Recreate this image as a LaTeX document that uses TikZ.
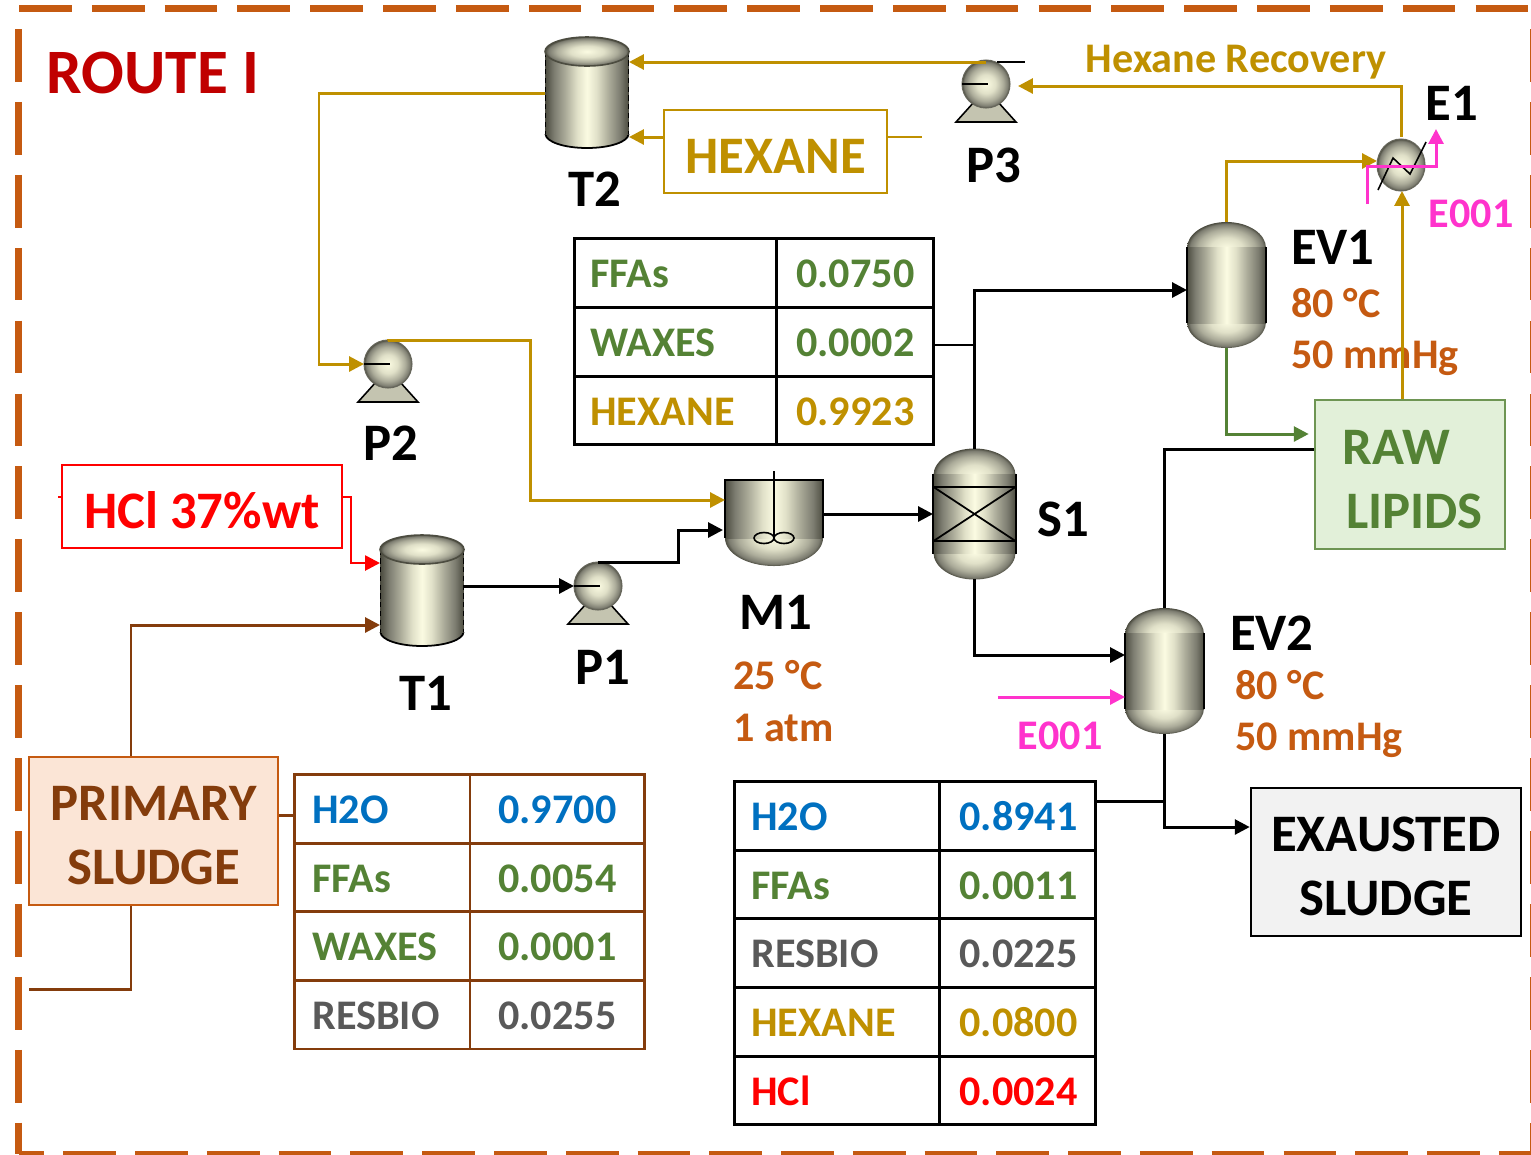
\documentclass[tikz,border=0pt]{standalone}
\usepackage{fontspec}
\setmainfont{Carlito}
\usetikzlibrary{arrows.meta, positioning, calc, shapes.geometric}
\definecolor{routered}{HTML}{C00000}
\definecolor{framecolor}{HTML}{C55A11}
\definecolor{hexcolor}{HTML}{BF9000}
\definecolor{sludgecolor}{HTML}{843C0C}
\definecolor{sludgefill}{HTML}{FBE5D6}
\definecolor{watercolor}{HTML}{0070C0}
\definecolor{lipidcolor}{HTML}{548235}
\definecolor{lipidfill}{HTML}{E2F0D9}
\definecolor{biocolor}{HTML}{595959}
\definecolor{utilcolor}{HTML}{FF33CC}
\definecolor{metaldark}{HTML}{4C4C40}
\definecolor{metalshade}{HTML}{7C7C70}
\definecolor{metalmid}{HTML}{ACAC9A}
\definecolor{metalpale}{HTML}{E0E0C8}
\definecolor{metallight}{HTML}{FBFBE2}
\pgfdeclarehorizontalshading{metal}{100bp}{color(0bp)=(metaldark); color(25bp)=(metaldark);
  color(30bp)=(metalshade); color(37bp)=(metalmid); color(44bp)=(metalpale); color(50bp)=(metallight);
  color(56bp)=(metalpale); color(63bp)=(metalmid); color(70bp)=(metalshade); color(75bp)=(metaldark); color(100bp)=(metaldark)}
\pgfdeclareradialshading{metalball}{\pgfpoint{0bp}{0bp}}{color(0bp)=(metallight);
  color(10bp)=(metalpale); color(18bp)=(metalmid); color(23bp)=(metalshade);
  color(25bp)=(metaldark); color(50bp)=(metaldark)}
\newcommand{\boxdrop}{\rule{0pt}{25pt}}
\tikzset{
  stream/.style   = {-{Triangle[length=8.5pt,width=8.5pt]}, line width=1.7pt},
  tie/.style      = {line width=1.7pt},
  thintie/.style  = {line width=0.8pt},
  unit/.style     = {inner sep=0pt, outer sep=0pt},
  tankunit/.style = {unit, minimum width=1.68cm, minimum height=2.22cm},
  pumpunit/.style = {unit, circle, minimum size=0.96cm},
  vesselunit/.style = {unit, minimum width=1.58cm, minimum height=2.52cm},
  sepunit/.style  = {unit, minimum width=1.66cm, minimum height=2.6cm},
  mixunit/.style  = {unit, minimum width=1.96cm, minimum height=1.72cm},
  hxunit/.style   = {unit, ellipse, minimum width=0.96cm, minimum height=1.04cm},
  tag/.style      = {font=\fontsize{30}{36}\selectfont\bfseries, inner sep=0pt, anchor=base, xshift=0.5pt, yshift=-0.5pt},
  cond/.style     = {font=\fontsize{24}{29}\selectfont\bfseries, color=framecolor, inner sep=0pt, anchor=base west},
  util/.style     = {font=\fontsize{24}{29}\selectfont\bfseries, color=utilcolor, inner sep=0pt, anchor=base},
  feedbox/.style  = {draw, line width=1.5pt, font=\fontsize{30}{36.3}\selectfont\bfseries, align=center, inner sep=0pt},
  tabframe/.style = {draw, line width=1.7pt, inner sep=0pt},
  gridline/.style = {line width=1.7pt},
  cell/.style     = {font=\fontsize{24}{29}\selectfont\bfseries, inner sep=0pt, anchor=base west},
  tank/.pic = {
    \shade[shading=metal] (0,41.5) ellipse [x radius=41.5, y radius=14];
    \draw[black, line width=1pt] (-41.5,41.5) arc [start angle=180, end angle=360, x radius=41.5, y radius=-14];
    \shade[shading=metal] (-41.5,-41) rectangle (41.5,41.5);
    \draw[black, densely dashed, line width=0.9pt] (-41.5,-41) -- (-41.5,41) (41.5,-41) -- (41.5,41);
    \shade[shading=metalball, draw=metaldark, line width=0.9pt] (0,-41) ellipse [x radius=42, y radius=14.5];
  },
  pump/.pic = {
    \fill[metalmid!70!metallight, draw=black, line width=0.9pt] (-30,38) -- (-12,18) -- (12,18) -- (30,38) -- cycle;
    \shade[shading=metalball, draw=metalmid!60!black, line width=0.6pt] (0,0) circle [radius=24];
    \draw[black, line width=0.9pt] (-24,0) -- (2,0);
  },
  vessel/.pic = {
    \shade[shading=metalball] (0,-37) ellipse [x radius=39.5, y radius=26];
    \shade[shading=metalball] (0,37) ellipse [x radius=39.5, y radius=26];
    \shade[shading=metal] (-39.5,-38) rectangle (39.5,38);
    \draw[black, line width=1.1pt] (-39.5,-38) -- (-39.5,38) (39.5,-38) -- (39.5,38);
  },
  packing/.pic = {
    \draw[black, line width=1pt] (-41,-27) -- (41,-27) (-41,27) -- (41,27) (-41,-27) -- (41,27) (-41,27) -- (41,-27);
  },
  mixer/.pic = {
    \shade[shading=metalball] (0,15) ellipse [x radius=49, y radius=28];
    \shade[shading=metal] (-49,-43) rectangle (49,15);
    \draw[black, line width=1.1pt] (-49,15) -- (-49,-43) -- (49,-43) -- (49,15);
    \draw[black, line width=0.8pt] (0,-52) -- (0,15);
    \draw[black, line width=0.9pt] (-10,15) ellipse [x radius=10, y radius=5.5] (10,15) ellipse [x radius=10, y radius=5.5];
  },
  exchanger/.pic = {
    \shade[shading=metalball, draw=metalmid!60!black, line width=0.6pt] (0,0) ellipse [x radius=24, y radius=26];
    \draw[black, line width=0.9pt] (-23,25) -- (-8,-7) -- (9,9) -- (25,-23);
  },
}
\begin{document}
\begin{tikzpicture}[x=0.02cm, y=-0.02cm]
  \useasboundingbox (0,0) rectangle (1531,1154);
  % outer frame
  \begin{scope}[framecolor, line width=3.7pt]
    \draw[dash pattern=on 30pt off 11.45pt] (19,8.5) -- (1540,8.5);
    \draw[dash pattern=on 30pt off 11.5pt] (18.5,29) -- (18.5,1154);
    \draw[dash pattern=on 30pt off 10.85pt, dash phase=15.3pt] (18.5,1154) -- (1540,1154);
    \draw[dash pattern=on 30pt off 11.5pt] (1533,29) -- (1533,1154);
  \end{scope}
  \node[font=\fontsize{36}{43}\selectfont\bfseries, routered, inner sep=0pt, anchor=base west] (route) at (46.5,93) {ROUTE I};

  % units
  \node[tankunit] (T2) at (587,92.5) {};
  \node[tankunit] (T1) at (422,590.5) {};
  \node[pumpunit] (P1) at (598,586) {};
  \node[pumpunit] (P2) at (388,364) {};
  \node[pumpunit] (P3) at (986,84) {};
  \node[mixunit] (M1) at (774,523) {};
  \node[sepunit] (S1) at (974.5,514) {};
  \node[vesselunit] (EV1) at (1226.5,285) {};
  \node[vesselunit] (EV2) at (1164.5,671) {};
  \node[hxunit] (E1) at (1401,165) {};
  \pic at (T2) {tank};
  \pic at (T1) {tank};
  \pic at (P1) {pump};
  \pic at (P2) {pump};
  \pic at (P3) {pump};
  \pic at (M1) {mixer};
  \pic[scale=1.04] at (S1) {vessel};
  \pic at (S1) {packing};
  \pic at (EV1) {vessel};
  \pic at (EV2) {vessel};
  \pic at (E1) {exchanger};

  % feed and product boxes
  \node[feedbox, color=hexcolor, minimum width=4.46cm, minimum height=1.66cm] (HEX) at (775.5,151.5) {\boxdrop HEXANE};
  \node[feedbox, color=red, fill=white, minimum width=5.6cm, minimum height=1.66cm] (HCL) at (202,506.5) {\boxdrop HCl 37\%wt};
  \node[feedbox, draw=framecolor, fill=sludgefill, text=sludgecolor, minimum width=4.98cm, minimum height=2.96cm] (PS) at (153.5,831) {\boxdrop PRIMARY\\SLUDGE};
  \node[feedbox, draw=lipidcolor!85!white, fill=lipidfill, text=lipidcolor, minimum width=3.8cm, minimum height=2.98cm, align=left] (RL) at (1410,474.5) {\boxdrop\hspace{3pt}RAW\\ \hspace{5pt}LIPIDS\hspace{7pt}};
  \node[feedbox, draw=black, fill=black!5, text=black, minimum width=5.4cm, minimum height=2.96cm] (ES) at (1386,862) {\boxdrop EXAUSTED\\SLUDGE};

  % tags
  \node[tag] (tT2) at (594,206) {T2};
  \node[tag] (tP3) at (993,182) {P3};
  \node[tag] (tE1) at (1451,120) {E1};
  \node[tag] (tEV1) at (1332,264) {EV1};
  \node[tag] (tS1) at (1062,536) {S1};
  \node[tag] (tP2) at (390,460) {P2};
  \node[tag] (tT1) at (425,710) {T1};
  \node[tag] (tP1) at (602,684) {P1};
  \node[tag] (tM1) at (775,629) {M1};
  \node[tag] (tEV2) at (1271,650) {EV2};
  \node[cond] (cEV1a) at (1291,317) {80 °C};
  \node[cond] (cEV1b) at (1291,368) {50 mmHg};
  \node[cond] (cM1a) at (733,689) {25 °C};
  \node[cond] (cM1b) at (733,741) {1 atm};
  \node[cond] (cEV2a) at (1235,699) {80 °C};
  \node[cond] (cEV2b) at (1235,750) {50 mmHg};
  \node[util] (uE1) at (1471,227) {E001};
  \node[util] (uEV2) at (1060,749) {E001};
  \node[cond, color=hexcolor, anchor=base] (hrec) at (1236,72) {Hexane Recovery};

  % tables
  \node[tabframe, draw=sludgecolor, minimum width=7cm, minimum height=5.5cm] (tabPS) at (469.5,911.5) {};
  \draw[gridline, sludgecolor] (470,774) -- (470,1049);
  \foreach \y in {843,911,980} \draw[gridline, sludgecolor] (295,\y) -- (644,\y);
  \foreach \y/\a/\b/\c [count=\i] in {823/H2O/0.9700/watercolor, 892/FFAs/0.0054/lipidcolor, 960/WAXES/0.0001/lipidcolor, 1029/RESBIO/0.0255/biocolor} {
    \node[cell, \c] (psn\i) at (312,\y) {\a};
    \node[cell, \c] (psv\i) at (498,\y) {\b};
  }
  \node[tabframe, minimum width=7.2cm, minimum height=4.14cm] (tabLP) at (754,341.5) {};
  \draw[gridline] (776,238) -- (776,445);
  \foreach \y in {307,376} \draw[gridline] (574,\y) -- (934,\y);
  \foreach \y/\a/\b/\c [count=\i] in {287/FFAs/0.0750/lipidcolor, 356/WAXES/0.0002/lipidcolor, 425/HEXANE/0.9923/hexcolor} {
    \node[cell, \c] (lpn\i) at (590,\y) {\a};
    \node[cell, \c] (lpv\i) at (796,\y) {\b};
  }
  \node[tabframe, minimum width=7.24cm, minimum height=6.88cm] (tabHP) at (915,953) {};
  \draw[gridline] (939,781) -- (939,1125);
  \foreach \y in {850,918,987,1056} \draw[gridline] (734,\y) -- (1096,\y);
  \foreach \y/\a/\b/\c [count=\i] in {830/H2O/0.8941/watercolor, 899/FFAs/0.0011/lipidcolor, 967/RESBIO/0.0225/biocolor, 1036/HEXANE/0.0800/hexcolor, 1105/HCl/0.0024/red} {
    \node[cell, \c] (hpn\i) at (751,\y) {\a};
    \node[cell, \c] (hpv\i) at (959,\y) {\b};
  }

  % streams
  \coordinate (P3out) at (1025,62);
  \coordinate (HEXend) at (922,137);
  \coordinate (HCLend) at (58,497);
  \coordinate (E001in) at (998,697);
  \coordinate (E001src) at (1367,204);
  \coordinate (E001out) at (1436,129);
  \coordinate (PSend) at (29,989);
  \draw[thintie, black] (997,62) -- (P3out);
  \draw[stream, hexcolor] (P3.north |- 0,62) -- (T2.east |- 0,62);
  \draw[stream, hexcolor] (HEX.west |- 0,137) -- (T2.east |- 0,137);
  \draw[thintie, hexcolor, line width=1.5pt] (HEX.east |- 0,137) -- (HEXend);
  \draw[stream, hexcolor] (T2.west |- 0,93) -| (319,250) |- (P2.west);
  \draw[stream, hexcolor] (P2.north) -- (388,340) -- (530,340) |- (M1.west |- 0,500);
  \draw[stream, hexcolor] (E1.north |- 0,137) |- ($(P3.east)+(8,2)$);
  \draw[stream, hexcolor] (EV1.north) |- (E1.west |- 0,161);
  \draw[stream, hexcolor] (RL.north -| 1402,0) -- (E1.south -| 1402,0);
  \draw[stream, lipidcolor] (EV1.south) |- ($(RL.west |- 0,434)+(-5,0)$);
  \draw[stream, black] (T1.east |- 0,586) -- (P1.west);
  \draw[stream, black] (P1.north) -| (678,545) |- ($(M1.west |- 0,530)+(-2,0)$);
  \draw[stream, black] (M1.east |- 0,514) -- (S1.west |- 0,514);
  \draw[stream, black] (S1.north) |- (EV1.west |- 0,290);
  \draw[stream, black] (S1.south) |- (EV2.west |- 0,655);
  \draw[tie, black] (EV2.north) |- (RL.west |- 0,449);
  \draw[stream, black] (EV2.south) |- (ES.west |- 0,827);
  \draw[thintie, black] (tabLP.east |- 0,345) -- (S1.north |- 0,345);
  \draw[tie, black] (tabHP.east |- 0,801) -- (EV2.south |- 0,801);
  \draw[stream, red, line width=1.5pt] (HCL.east |- 0,497) -- (351,497) |- (T1.west |- 0,563);
  \draw[thintie, red] (HCLend) -- (HCL.west |- HCLend);
  \draw[stream, sludgecolor] (PS.north -| 131,0) |- (T1.west |- 0,625);
  \draw[tie, sludgecolor] (PS.south -| 131,0) |- (PSend);
  \draw[tie, sludgecolor] (PS.east |- 0,815) -- (tabPS.west |- 0,815);
  \draw[stream, utilcolor] (E001in) -- (EV2.west |- E001in);
  \draw[stream, utilcolor] (E001src) |- (E001out |- 0,166) -- (E001out);
\end{tikzpicture}
\end{document}
